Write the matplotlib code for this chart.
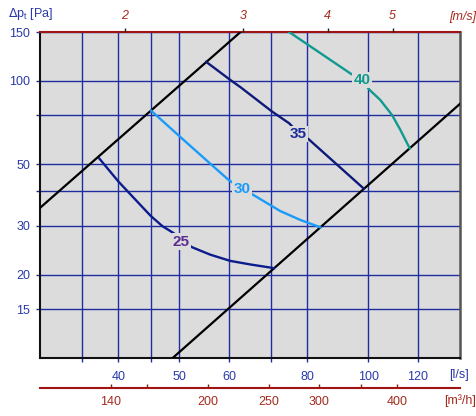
import matplotlib
matplotlib.use("Agg")
import matplotlib.pyplot as plt
import matplotlib.ticker as mticker

plt.rcParams['font.family'] = ['Liberation Sans', 'DejaVu Sans']

# system lines (straight in log-log), flow [l/s] and pressure [Pa]
sysA_q = [30.0, 62.6]
sysA_p = [34.8, 150.0]
sysB_q = [48.8, 140.0]
sysB_p = [10.0, 82.6]

# noise curves (dB(A))
c25_q = [37.3, 40.0, 42.6, 45.0, 47.0, 49.0, 50.2, 52.4, 56.0, 60.3, 64.9, 70.7]
c25_p = [52.4, 43.3, 37.2, 32.6, 29.9, 28.2, 26.8, 25.1, 23.6, 22.4, 21.75, 21.1]
c30_q = [45.1, 50.8, 59.9, 62.9, 65.3, 72.4, 77.9, 83.9]
c30_p = [78.0, 61.2, 43.9, 41.0, 39.0, 33.9, 31.5, 29.6]
c35_q = [55.2, 60.3, 62.6, 70.3, 74.8, 77.1, 80.4, 98.3]
c35_p = [117.0, 100.7, 94.8, 77.4, 70.3, 65.5, 61.5, 40.9]
c40_q = [74.8, 93.6, 97.7, 100.5, 104.5, 109.1, 112.5, 116.4]
c40_p = [150.0, 106.4, 100.5, 92.7, 85.3, 75.3, 66.5, 57.1]

curves = [
    (c25_q, c25_p, '#0c1c8c', '25', '#5a2d91', (50.4, 26.3)),
    (c30_q, c30_p, '#1a9bfa', '30', '#1a9bfa', (63.0, 40.7)),
    (c35_q, c35_p, '#0d1a7a', '35', '#1a2a9a', (77.2, 64.3)),
    (c40_q, c40_p, '#109a90', '40', '#109a90', (97.8, 100.6)),
]

xticks = [35, 40, 45, 50, 60, 70, 80, 100, 120]
xlabels = ['', '40', '', '50', '60', '', '80', '100', '120']
yticks = [15, 20, 30, 40, 50, 75, 100, 150]
ylabels = ['15', '20', '30', '', '50', '', '100', '150']
vticks = [2, 3, 4, 5]
m3h_ticks = [140, 160, 200, 250, 300, 350, 400]
m3h_labels = ['140', '', '200', '250', '300', '', '400']

blue = '#2a3aa8'
grid_blue = '#1f2e9e'
red = '#a52a1e'

fig = plt.figure(figsize=(4.77, 4.16), dpi=100)
ax = fig.add_axes([40/477, 58/416, 420/477, 326/416])
ax.set_facecolor('#dcdcdc')
ax.set_xscale('log')
ax.set_yscale('log')
ax.set_xlim(30, 140)
ax.set_ylim(10, 150)

ax.set_xticks(xticks, labels=xlabels)
ax.set_yticks(yticks, labels=ylabels)
ax.xaxis.set_minor_locator(mticker.NullLocator())
ax.yaxis.set_minor_locator(mticker.NullLocator())
ax.grid(True, color=grid_blue, lw=1.0, zorder=1)
ax.set_axisbelow(True)
ax.tick_params(axis='x', colors=grid_blue, labelcolor=blue, length=3, width=1, pad=6, labelsize=9)
ax.tick_params(axis='y', colors=grid_blue, labelcolor=blue, length=3, width=1, pad=4, labelsize=9)

for s in ['left', 'bottom']:
    ax.spines[s].set_color('#111111')
    ax.spines[s].set_linewidth(1.5)
ax.spines['right'].set_color('#555555')
ax.spines['right'].set_linewidth(1.8)
ax.spines['top'].set_color('#a01414')
ax.spines['top'].set_linewidth(1.5)

ax.plot(sysA_q, sysA_p, color='black', lw=1.6, zorder=3)
ax.plot(sysB_q, sysB_p, color='black', lw=1.6, zorder=3)

for q, p, col, lab, lcol, pos in curves:
    ax.plot(q, p, color=col, lw=1.7, zorder=4)
    ax.text(pos[0], pos[1], lab, color=lcol, fontsize=11, fontweight='bold',
            ha='center', va='center', zorder=5,
            bbox=dict(facecolor='#dcdcdc', edgecolor='none', pad=1.0))

# velocity axis on top
axt = ax.twiny()
axt.set_xscale('log')
axt.set_xlim(1.495, 6.295)
axt.set_xticks(vticks, labels=[str(v) for v in vticks])
axt.xaxis.set_minor_locator(mticker.NullLocator())
axt.tick_params(axis='x', colors='#222222', labelcolor=red, length=3, width=1, pad=4, labelsize=9)
for lbl in axt.get_xticklabels():
    lbl.set_style('italic')
for s in ['left', 'right', 'bottom', 'top']:
    axt.spines[s].set_visible(False)

# m3/h axis below
axm = ax.secondary_xaxis(-30/326, functions=(lambda q: q * 3.6, lambda m: m / 3.6))
axm.set_xticks(m3h_ticks, labels=m3h_labels)
axm.xaxis.set_minor_locator(mticker.NullLocator())
axm.tick_params(axis='x', direction='in', colors='#8a2010', labelcolor=red, length=3, width=1, pad=6, labelsize=9)
axm.spines['bottom'].set_color('#a01414')
axm.spines['bottom'].set_linewidth(1.5)

fig.text(8/477, 1 - 14/416, r'$\Delta$p$_\mathregular{t}$ [Pa]', color=blue, fontsize=9, va='center', ha='left')
fig.text(469/477, 1 - 375/416, '[l/s]', color=blue, fontsize=9, va='center', ha='right')
fig.text(476/477, 1 - 401/416, '[m³/h]', color=red, fontsize=9, va='center', ha='right')
fig.text(476/477, 1 - 17/416, '[m/s]', color=red, fontsize=9, va='center', ha='right', style='italic')

fig.savefig('out.png', dpi=100)
